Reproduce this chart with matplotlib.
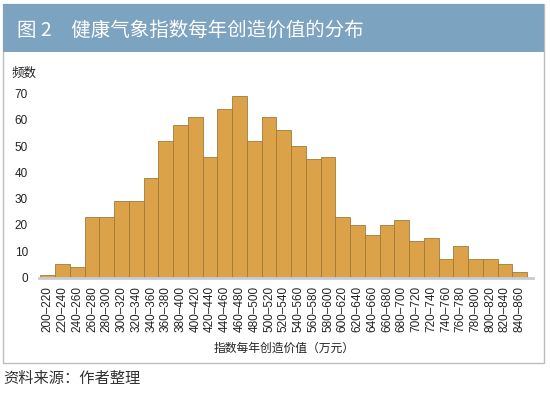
import matplotlib
matplotlib.use("Agg")
import matplotlib.pyplot as plt
from matplotlib.patches import Rectangle

plt.rcParams['font.family'] = ['Liberation Sans', 'Noto Sans CJK SC', 'DejaVu Sans']

# value bins (10k yuan) and counts
bins = ['200–220', '220–240', '240–260', '260–280', '280–300', '300–320',
        '320–340', '340–360', '360–380', '380–400', '400–420', '420–440',
        '440–460', '460–480', '480–500', '500–520', '520–540', '540–560',
        '560–580', '580–600', '600–620', '620–640', '640–660', '660–680',
        '680–700', '700–720', '720–740', '740–760', '760–780', '780–800',
        '800–820', '820–840', '840–860']
counts = [1, 5, 4, 23, 23, 29, 29, 38, 52, 58, 61, 46, 64, 69, 52, 61,
          56, 50, 45, 46, 23, 20, 16, 20, 22, 14, 15, 7, 12, 7, 7, 5, 2]
yticks = [0, 10, 20, 30, 40, 50, 60, 70]

W, H = 550, 397
fig = plt.figure(figsize=(W / 100, H / 100), dpi=100)

# outer frame and title band
fig.patches.append(Rectangle((3 / W, 1 - 363 / H), 541 / W, 359 / H,
                             transform=fig.transFigure, fill=False,
                             edgecolor='#b9bdc1', linewidth=1.0))
fig.patches.append(Rectangle((3 / W, 1 - 52 / H), 541 / W, 48 / H,
                             transform=fig.transFigure, facecolor='#7ca3bf',
                             edgecolor='none'))
fig.text(17 / W, 1 - 30 / H, '图 2　健康气象指数每年创造价值的分布',
         color='white', fontsize=14, va='center', ha='left',
         family=['Noto Sans CJK SC', 'DejaVu Sans'])

ax = fig.add_axes([39 / W, 1 - 277.5 / H, 494 / W, 194.5 / H])
x = list(range(len(bins)))
ax.bar(x, counts, width=1.0, color='#dca24a', edgecolor='#a07a38',
       linewidth=0.6)
ax.set_xlim(-0.6, 32.9)
ax.set_ylim(0, 74)

ax.set_xticks(x)
ax.set_xticklabels(bins, rotation=90, fontsize=8.5, color='#222222')
ax.set_yticks(yticks)
ax.set_yticklabels([str(v) for v in yticks], fontsize=8.5, color='#222222')
ax.tick_params(axis='both', length=0)
ax.tick_params(axis='y', pad=8)
ax.tick_params(axis='x', pad=6)

for s in ['top', 'right', 'left']:
    ax.spines[s].set_visible(False)
ax.spines['bottom'].set_color('#c6ccd3')
ax.spines['bottom'].set_linewidth(2)

fig.text(12 / W, 1 - 73 / H, '频数', fontsize=9, va='center', ha='left',
         family=['Noto Sans CJK SC'], color='#222222', fontweight='medium')
fig.text(284 / W, 1 - 348 / H, '指数每年创造价值（万元）', fontsize=8.5,
         va='center', ha='center', family=['Noto Sans CJK SC'],
         color='#222222', fontweight='medium')
fig.text(3 / W, 1 - 378 / H, '资料来源：作者整理', fontsize=11,
         va='center', ha='left', family=['Noto Sans CJK SC'], color='#333333')

fig.savefig('out.png', dpi=100)
